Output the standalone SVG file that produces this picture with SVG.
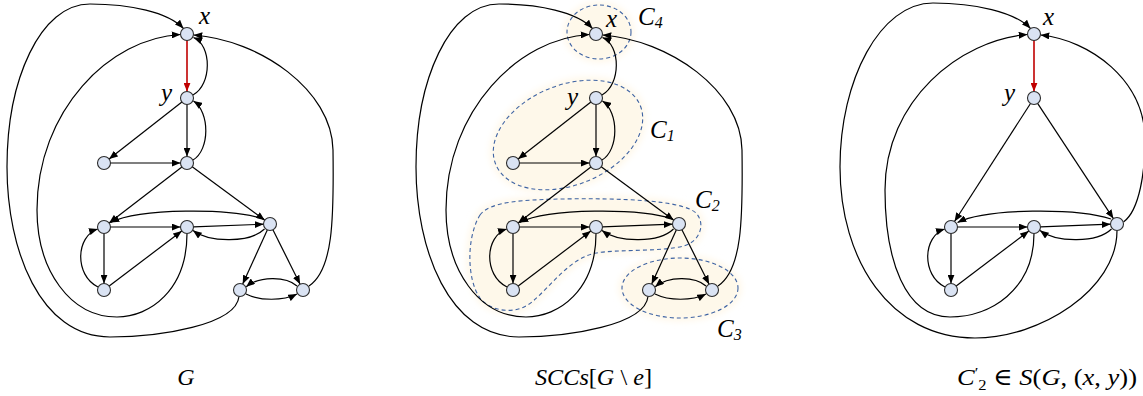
<svg xmlns="http://www.w3.org/2000/svg" width="1143" height="396" viewBox="0 0 1143 396">
<defs>
<style>
.e{fill:none;stroke:#000;stroke-width:1.2;marker-end:url(#ah)}
.r{fill:none;stroke:#C00000;stroke-width:1.6;marker-end:url(#ahr)}
.n{fill:#DAE3F3;stroke:#2B2B2B;stroke-width:1.1}
.t{font-family:"Liberation Serif","DejaVu Serif",serif;font-style:italic;fill:#000}
.u{font-style:normal}
.bf{fill:#FEF8EA;stroke:#FEF8EA;stroke-width:7;filter:url(#blur)}
.bd{fill:none;stroke:#3E63A3;stroke-width:1.1;stroke-dasharray:4 3}
</style>
<marker id="ah" viewBox="0 0 10 8" refX="10" refY="4" markerWidth="9" markerHeight="7" orient="auto" markerUnits="userSpaceOnUse"><path d="M0,0 L10,4 L0,8 z" fill="#000"/></marker>
<marker id="ahr" viewBox="0 0 10 8" refX="10" refY="4" markerWidth="9" markerHeight="7" orient="auto" markerUnits="userSpaceOnUse"><path d="M0,0 L10,4 L0,8 z" fill="#C00000"/></marker>
<filter id="blur" x="-20%" y="-20%" width="140%" height="140%"><feGaussianBlur stdDeviation="3"/></filter>
</defs>

<!-- SCC blobs (panel 2) -->
<g id="sccs">
<ellipse class="bf" cx="599" cy="32" rx="32" ry="27"/>
<ellipse class="bf" cx="568" cy="135" rx="78" ry="50" transform="rotate(-22 568 135)"/>
<path class="bf" d="M 480,215 C 490,201 525,200 560,199 C 620,198 682,200 696,213 C 706,224 700,241 684,246 C 660,252 620,249 596,253 C 570,258 552,285 532,302 C 515,316 490,311 480,298 C 467,280 466,238 480,215 Z"/>
<ellipse class="bf" cx="680" cy="288" rx="58" ry="30"/>
<ellipse class="bd" cx="599" cy="32" rx="32" ry="27"/>
<ellipse class="bd" cx="568" cy="135" rx="78" ry="50" transform="rotate(-22 568 135)"/>
<path class="bd" d="M 480,215 C 490,201 525,200 560,199 C 620,198 682,200 696,213 C 706,224 700,241 684,246 C 660,252 620,249 596,253 C 570,258 552,285 532,302 C 515,316 490,311 480,298 C 467,280 466,238 480,215 Z"/>
<ellipse class="bd" cx="680" cy="288" rx="58" ry="30"/>
</g>

<!-- connectors -->
<g id="connectors">
<g id="edges-G">
<path class="r" d="M187,40.5 L187,91.5"/>
<path class="e" d="M193,95 C212,85 212,45 193.5,37.5"/>
<path class="e" d="M193,160 C210,150 210,112 193.5,101"/>
<path class="e" d="M187,104.5 L187,156.5"/>
<path class="e" d="M181.9,102 L109.1,159"/>
<path class="e" d="M110.5,163 L180.5,163"/>
<path class="e" d="M181.9,167 L109.1,223"/>
<path class="e" d="M192.2,166.8 L264.8,220.2"/>
<path class="e" d="M110.5,227 L180.5,227"/>
<path class="e" d="M193.5,226.8 L263.5,224.2"/>
<path class="e" d="M264,219 C230,208 140,208 110.5,222.5"/>
<path class="e" d="M264.5,229 C250,243 210,243 193,230.5"/>
<path class="e" d="M104,233.5 L104,283.5"/>
<path class="e" d="M109.2,286 L181.8,231"/>
<path class="e" d="M98,287 C74,275 76,236 97.7,229"/>
<path class="e" d="M267.3,229.9 L242.7,284.1"/>
<path class="e" d="M272.9,229.8 L300.1,284.2"/>
<path class="e" d="M297,286 C286,276 259,276 246.2,286.8"/>
<path class="e" d="M246,294 C260,301 283,301 297,294"/>
<path class="e" d="M309,286 C333,270 334,220 333,150 C332,90 260,40 193.5,35"/>
<path class="e" d="M187,233.5 C187,290 150,317 117,317 C70,317 37,270 37,210 C37,110 110,38 180.5,34.5"/>
<path class="e" d="M239,296.5 C236,325 160,337 110,337 C40,337 7,250 7,167 C7,80 40,4 90,4 C130,4 168,12 183.5,28.5"/>
</g>
<g id="edges-SCC" transform="translate(409,0)">
<path class="e" d="M193,95 C212,85 212,45 193.5,37.5"/>
<path class="e" d="M193,160 C210,150 210,112 193.5,101"/>
<path class="e" d="M187,104.5 L187,156.5"/>
<path class="e" d="M181.9,102 L109.1,159"/>
<path class="e" d="M110.5,163 L180.5,163"/>
<path class="e" d="M181.9,167 L109.1,223"/>
<path class="e" d="M192.2,166.8 L264.8,220.2"/>
<path class="e" d="M110.5,227 L180.5,227"/>
<path class="e" d="M193.5,226.8 L263.5,224.2"/>
<path class="e" d="M264,219 C230,208 140,208 110.5,222.5"/>
<path class="e" d="M264.5,229 C250,243 210,243 193,230.5"/>
<path class="e" d="M104,233.5 L104,283.5"/>
<path class="e" d="M109.2,286 L181.8,231"/>
<path class="e" d="M98,287 C74,275 76,236 97.7,229"/>
<path class="e" d="M267.3,229.9 L242.7,284.1"/>
<path class="e" d="M272.9,229.8 L300.1,284.2"/>
<path class="e" d="M297,286 C286,276 259,276 246.2,286.8"/>
<path class="e" d="M246,294 C260,301 283,301 297,294"/>
<path class="e" d="M309,286 C333,270 334,220 333,150 C332,90 260,40 193.5,35"/>
<path class="e" d="M187,233.5 C187,290 150,317 117,317 C70,317 37,270 37,210 C37,110 110,38 180.5,34.5"/>
<path class="e" d="M239,296.5 C236,325 160,337 110,337 C40,337 7,250 7,167 C7,80 40,4 90,4 C130,4 168,12 183.5,28.5"/>
</g>
<g id="edges-S" transform="translate(847,0)">
<path class="r" d="M187,40.5 L187,91.5"/>
<path class="e" d="M183.5,103.5 L107.5,221.5"/>
<path class="e" d="M190.6,103.4 L266.4,218.6"/>
<path class="e" d="M110.5,227 L180.5,227"/>
<path class="e" d="M193.5,226.8 L263.5,224.2"/>
<path class="e" d="M264,219 C230,208 140,208 110.5,222.5"/>
<path class="e" d="M264.5,229 C250,243 210,243 193,230.5"/>
<path class="e" d="M104,233.5 L104,283.5"/>
<path class="e" d="M109.2,286 L181.8,231"/>
<path class="e" d="M98,287 C74,275 76,236 97.7,229"/>
<path class="e" d="M276.5,222 C293,210 298,170 298,140 C298,80 243,40 193.5,35"/>
<path class="e" d="M187,233.5 C187,290 143,317 103,317 C58,317 38,260 38,190 C38,100 113,40 180.5,34.5"/>
<path class="e" d="M270,230.5 C270,290 193,338 128,338 C43,338 -7,260 -7,167 C-7,80 33,3 86,3 C128,3 168,12 183.5,28.5"/>
</g>
</g>

<!-- nodes panel 1 -->
<g id="g-x"><circle class="n" cx="187" cy="34" r="6.5"/></g>
<g id="g-y"><circle class="n" cx="187" cy="98" r="6.5"/></g>
<g id="g-l"><circle class="n" cx="104" cy="163" r="6.5"/></g>
<g id="g-m"><circle class="n" cx="187" cy="163" r="6.5"/></g>
<g id="g-a"><circle class="n" cx="104" cy="227" r="6.5"/></g>
<g id="g-b"><circle class="n" cx="187" cy="227" r="6.5"/></g>
<g id="g-c"><circle class="n" cx="270" cy="224" r="6.5"/></g>
<g id="g-d"><circle class="n" cx="104" cy="290" r="6.5"/></g>
<g id="g-e"><circle class="n" cx="240" cy="290" r="6.5"/></g>
<g id="g-f"><circle class="n" cx="303" cy="290" r="6.5"/></g>
<!-- nodes panel 2 -->
<g id="s-x"><circle class="n" cx="596" cy="34" r="6.5"/></g>
<g id="s-y"><circle class="n" cx="596" cy="98" r="6.5"/></g>
<g id="s-l"><circle class="n" cx="513" cy="163" r="6.5"/></g>
<g id="s-m"><circle class="n" cx="596" cy="163" r="6.5"/></g>
<g id="s-a"><circle class="n" cx="513" cy="227" r="6.5"/></g>
<g id="s-b"><circle class="n" cx="596" cy="227" r="6.5"/></g>
<g id="s-c"><circle class="n" cx="679" cy="224" r="6.5"/></g>
<g id="s-d"><circle class="n" cx="513" cy="290" r="6.5"/></g>
<g id="s-e"><circle class="n" cx="649" cy="290" r="6.5"/></g>
<g id="s-f"><circle class="n" cx="712" cy="290" r="6.5"/></g>
<!-- nodes panel 3 -->
<g id="c-x"><circle class="n" cx="1034" cy="34" r="6.5"/></g>
<g id="c-y"><circle class="n" cx="1034" cy="98" r="6.5"/></g>
<g id="c-a"><circle class="n" cx="951" cy="227" r="6.5"/></g>
<g id="c-b"><circle class="n" cx="1034" cy="227" r="6.5"/></g>
<g id="c-c"><circle class="n" cx="1117" cy="224" r="6.5"/></g>
<g id="c-d"><circle class="n" cx="951" cy="290" r="6.5"/></g>

<!-- labels -->
<g id="labels" class="t" font-size="25">
<text x="199" y="24">x</text>
<text x="161" y="101">y</text>
<text x="606" y="27">x</text>
<text x="567" y="105">y</text>
<text x="1043" y="25">x</text>
<text x="1004" y="101">y</text>
<text x="638" y="25">C<tspan font-size="16" dy="3">4</tspan></text>
<text x="650" y="138">C<tspan font-size="16" dy="3">1</tspan></text>
<text x="695" y="208">C<tspan font-size="16" dy="3">2</tspan></text>
<text x="717" y="337">C<tspan font-size="16" dy="3">3</tspan></text>
</g>

<!-- captions -->
<g id="captions" class="t" font-size="24">
<text x="186" y="385" text-anchor="middle">G</text>
<text x="535" y="385" textLength="117" lengthAdjust="spacingAndGlyphs">SCCs<tspan class="u">[</tspan>G <tspan class="u">\</tspan> e<tspan class="u">]</tspan></text>
<text x="957" y="385" textLength="180" lengthAdjust="spacingAndGlyphs">C<tspan class="u" font-size="15" dy="-7">′</tspan><tspan class="u" font-size="15" dy="12">2</tspan><tspan class="u" dy="-5"> ∈ </tspan>S<tspan class="u">(</tspan>G<tspan class="u">, (</tspan>x<tspan class="u">, </tspan>y<tspan class="u">))</tspan></text>
</g>
</svg>
